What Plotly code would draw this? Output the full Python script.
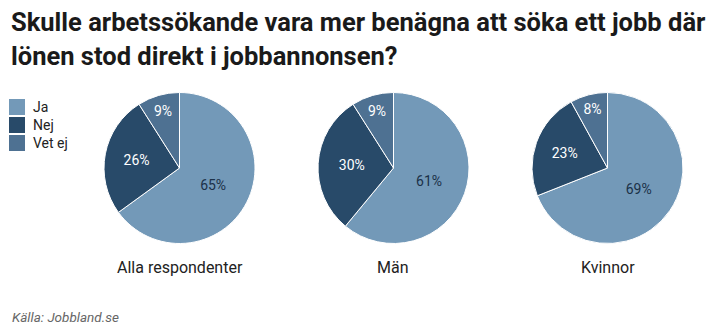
import plotly.graph_objects as go

answers = ["Ja", "Nej", "Vet ej"]
groups = ["Alla respondenter", "Män", "Kvinnor"]
shares_all = [65, 26, 9]
shares_men = [61, 30, 9]
shares_women = [69, 23, 8]
series = [shares_all, shares_men, shares_women]

colors = ["#7399b8", "#284a69", "#4e7192"]
text_colors = ["#1b3148", "#ffffff", "#ffffff"]

W, H = 720, 330
centers_x = [179.5, 393.5, 607.5]
center_y = 168
radius = 75.5


def px(x):
    return x / W


def py(y):
    return 1 - y / H


fig = go.Figure()
for i, (name, vals) in enumerate(zip(groups, series)):
    cx = centers_x[i]
    fig.add_trace(go.Pie(
        labels=answers,
        values=vals,
        sort=False,
        direction="clockwise",
        rotation=0,
        marker=dict(colors=colors, line=dict(color="white", width=1)),
        texttemplate="%{value}%",
        textposition="inside",
        insidetextorientation="horizontal",
        insidetextfont=dict(family="Roboto", size=14, color=text_colors),
        showlegend=False,
        hoverinfo="label+value",
        domain=dict(
            x=[px(cx - radius), px(cx + radius)],
            y=[py(center_y + radius), py(center_y - radius)],
        ),
    ))
    fig.add_annotation(
        x=px(cx), y=py(267), xref="paper", yref="paper",
        text=name, showarrow=False, xanchor="center", yanchor="middle",
        font=dict(family="Roboto", size=16, color="#222222"),
    )

# Legend: colour swatches with their answer labels
for k, (lab, col) in enumerate(zip(answers, colors)):
    top = 99 + 18 * k
    fig.add_shape(
        type="rect", xref="paper", yref="paper",
        x0=px(9), x1=px(25), y0=py(top + 16), y1=py(top),
        fillcolor=col, line=dict(width=0),
    )
    fig.add_annotation(
        x=px(31), y=py(top + 8), xref="paper", yref="paper",
        text=lab, showarrow=False, xanchor="left", yanchor="middle",
        font=dict(family="Roboto", size=14, color="#222222"),
    )

title_lines = [
    "Skulle arbetssökande vara mer benägna att söka ett jobb där",
    "lönen stod direkt i jobbannonsen?",
]
for line, yc in zip(title_lines, [22, 56]):
    fig.add_annotation(
        x=px(9), y=py(yc), xref="paper", yref="paper",
        text=f"<b>{line}</b>",
        showarrow=False, xanchor="left", yanchor="middle", align="left",
        font=dict(family="Roboto", size=25.5, color="#1a1a1a"),
    )

fig.add_annotation(
    x=px(10), y=py(317), xref="paper", yref="paper",
    text="<i>Källa: Jobbland.se</i>",
    showarrow=False, xanchor="left", yanchor="middle",
    font=dict(family="Roboto", size=13.5, color="#666666"),
)

fig.update_layout(
    width=W, height=H,
    margin=dict(l=0, r=0, t=0, b=0),
    paper_bgcolor="white",
    plot_bgcolor="white",
    showlegend=False,
)

fig.write_html("out.html")
